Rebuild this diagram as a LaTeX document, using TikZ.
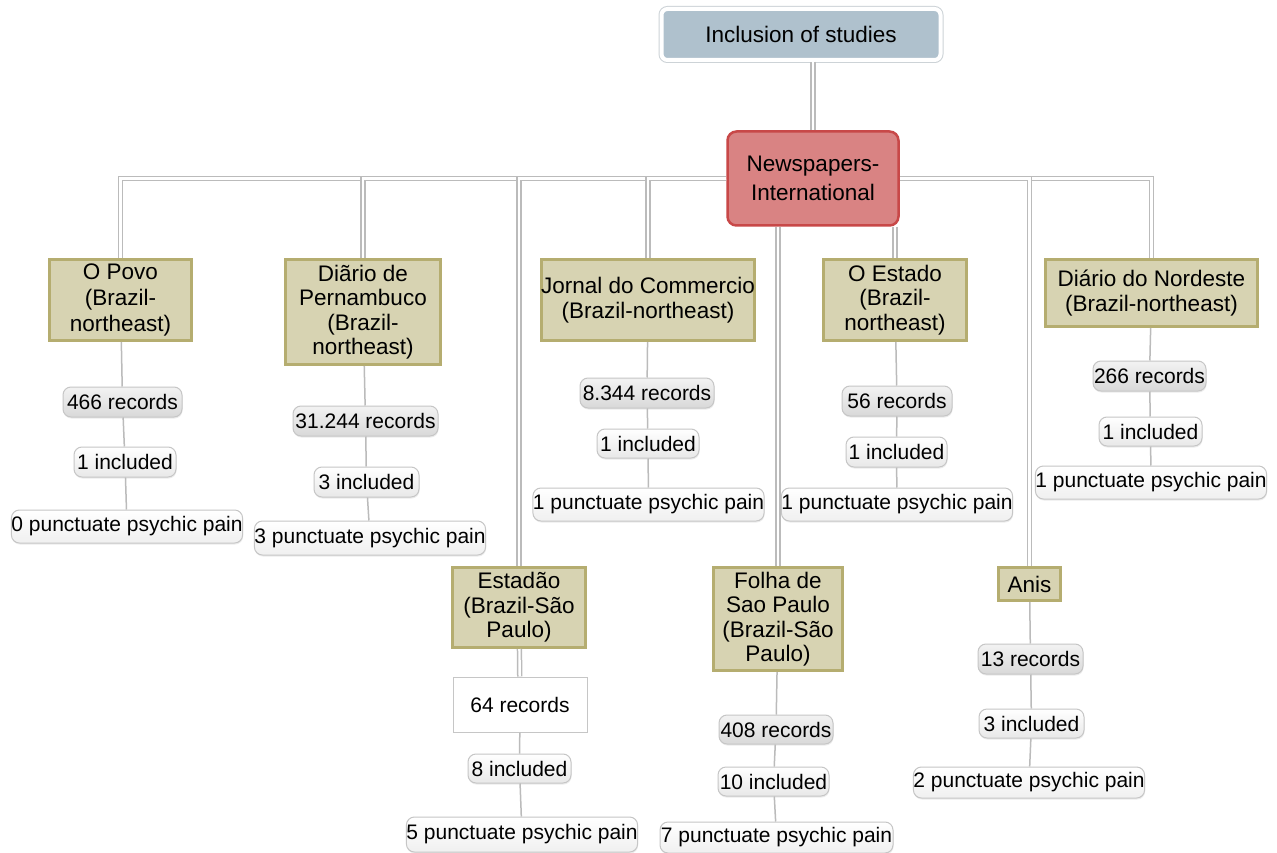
\documentclass[tikz,border=0pt]{standalone}
\usepackage{fontspec}
\setmainfont{Liberation Sans}
\usetikzlibrary{shadows}
\definecolor{titlefill}{HTML}{AFC1CD}
\definecolor{titleedge}{HTML}{CDD3D7}
\definecolor{newsfill}{HTML}{D98383}
\definecolor{newsdraw}{HTML}{C84848}
\definecolor{khfill}{HTML}{D7D3B2}
\definecolor{khdraw}{HTML}{B5AD70}
\definecolor{conn}{HTML}{BBBBBB}
\definecolor{pilldraw}{HTML}{C6C6C6}
\newcommand{\boxfnt}{\fontsize{22.5}{24.5}\selectfont}
\newcommand{\pillfnt}{\fontsize{21}{24}\selectfont}
\begin{document}
\begin{tikzpicture}[x=1pt,y=-1pt,
 titlebox/.style={rounded corners=6pt, fill=titlefill, draw=white, line width=4pt,
   drop shadow={shadow xshift=1pt,shadow yshift=-2.5pt,opacity=0.35},
   preaction={draw=titleedge, line width=6pt}, inner sep=0pt, font=\boxfnt},
 newsbox/.style={rounded corners=9pt, fill=newsfill, draw=newsdraw, line width=2.5pt,
   inner sep=0pt, align=center, font=\fontsize{22.5}{28.5}\selectfont},
 paperbox/.style={fill=khfill, draw=khdraw, line width=3pt, inner sep=0pt, align=center, font=\boxfnt},
 pill/.style={rounded corners=8pt, draw=pilldraw, line width=1pt, inner sep=0pt, font=\pillfnt,
   drop shadow={shadow xshift=0.5pt,shadow yshift=-1.5pt,opacity=0.15}},
 recpill/.style={pill, top color=white!95!black, bottom color=white!85!black},
 incpill/.style={pill, top color=white, bottom color=white!91!black},
 punpill/.style={pill, top color=white, bottom color=white!94!black},
 recrect/.style={draw=pilldraw, line width=1pt, fill=white, inner sep=0pt, font=\pillfnt},
 dbl/.style={draw=conn, line width=1.5pt, double=white, double distance=2.4pt},
 sgl/.style={draw=conn, line width=1.5pt},
 sz/.style 2 args={minimum width=#1pt, minimum height=#2pt}
]
\useasboundingbox[fill=white] (0,0) rectangle (1277,853);

% main nodes
\node[titlebox, sz={279}{51}] (title) at (801,34.5) {Inclusion of studies};
\node[newsbox, sz={171}{94}] (news) at (813,178.5) {Newspapers-\\International};

\node[paperbox, sz={142}{81}, font=\fontsize{22.5}{26}\selectfont] (opovo) at (120.5,300) {O Povo\\(Brazil-\\northeast)};
\node[paperbox, sz={155}{105}] (pern) at (363,312) {Diãrio de\\Pernambuco\\(Brazil-\\northeast)};
\node[paperbox, sz={211}{81}] (jornal) at (648,300) {Jornal do Commercio\\(Brazil-northeast)};
\node[paperbox, sz={143}{81}] (oestado) at (895,300) {O Estado\\(Brazil-\\northeast)};
\node[paperbox, sz={212}{67}] (nordeste) at (1151.5,293) {Diário do Nordeste\\(Brazil-northeast)};
\node[paperbox, sz={133}{80}] (estadao) at (519,607.5) {Estadão\\(Brazil-São\\Paulo)};
\node[paperbox, sz={129}{103}] (folha) at (778,619) {Folha de\\Sao Paulo\\(Brazil-São\\Paulo)};
\node[paperbox, sz={62}{33}] (anis) at (1029.5,584) {Anis};

% O Povo column
\node[recpill, sz={119}{30}] (r1) at (122.5,402) {466 records};
\node[incpill, sz={102}{30}] (i1) at (125,462) {1 included};
\node[punpill, sz={228}{33}] (p1) at (127,526.5) {0 punctuate psychic pain};
% Pernambuco column
\node[recpill, sz={145}{30}] (r2) at (365.5,421) {31.244 records};
\node[incpill, sz={105}{30}] (i2) at (366.5,482) {3 included};
\node[punpill, sz={230}{34}] (p2) at (370,538) {3 punctuate psychic pain};
% Jornal column
\node[recpill, sz={134}{30}] (r3) at (647,393) {8.344 records};
\node[incpill, sz={102}{29}] (i3) at (648,443.5) {1 included};
\node[punpill, sz={229}{33}] (p3) at (648.5,504.5) {1 punctuate psychic pain};
% O Estado column
\node[recpill, sz={110}{30}] (r4) at (897,401) {56 records};
\node[incpill, sz={101}{30}] (i4) at (896.5,452) {1 included};
\node[punpill, sz={228}{33}] (p4) at (897,504.5) {1 punctuate psychic pain};
% Nordeste column
\node[recpill, sz={113}{30}] (r5) at (1149.5,376) {266 records};
\node[incpill, sz={103}{29}] (i5) at (1150.5,431.5) {1 included};
\node[punpill, sz={230}{33}] (p5) at (1151,482.5) {1 punctuate psychic pain};
% Estadao column
\node[recrect, sz={134}{55}] (r6) at (520,704.5) {64 records};
\node[incpill, sz={103}{29}] (i6) at (519.5,768.5) {8 included};
\node[punpill, sz={230}{35}] (p6) at (522,834.5) {5 punctuate psychic pain};
% Folha column
\node[recpill, sz={114}{29}] (r7) at (776,729.5) {408 records};
\node[incpill, sz={111}{29}] (i7) at (773.5,781.5) {10 included};
\node[punpill, sz={233}{31}] (p7) at (776.5,837.5) {7 punctuate psychic pain};
% Anis column
\node[recpill, sz={105}{30}] (r8) at (1030.5,659) {13 records};
\node[incpill, sz={105}{29}] (i8) at (1031.5,723.5) {3 included};
\node[punpill, sz={228}{31}] (p8) at (1029,782.5) {2 punctuate psychic pain};

% double connectors (tree)
\draw[dbl] (title.south -| news.north) -- (news.north);
\draw[dbl] (news.west) -| (opovo.north);
\draw[dbl] (news.east) -| (nordeste.north);
\draw[dbl] (news.west) -| (pern.north);
\draw[dbl] (news.west) -| (estadao.north);
\draw[dbl] (news.west) -| (jornal.north);
\draw[dbl] (news.east) -| (anis.north);
\draw[dbl] (news.south -| folha.north) -- (folha.north);
\draw[dbl] (news.south -| oestado.north) -- (oestado.north);
\draw[dbl] (estadao) -- (r6);

% single connectors
\draw[sgl] (opovo) -- (r1); \draw[sgl] (r1) -- (i1); \draw[sgl] (i1) -- (p1);
\draw[sgl] (pern) -- (r2); \draw[sgl] (r2) -- (i2); \draw[sgl] (i2) -- (p2);
\draw[sgl] (jornal) -- (r3); \draw[sgl] (r3) -- (i3); \draw[sgl] (i3) -- (p3);
\draw[sgl] (oestado) -- (r4); \draw[sgl] (r4) -- (i4); \draw[sgl] (i4) -- (p4);
\draw[sgl] (nordeste) -- (r5); \draw[sgl] (r5) -- (i5); \draw[sgl] (i5) -- (p5);
\draw[sgl] (r6) -- (i6); \draw[sgl] (i6) -- (p6);
\draw[sgl] (folha) -- (r7); \draw[sgl] (r7) -- (i7); \draw[sgl] (i7) -- (p7);
\draw[sgl] (anis) -- (r8); \draw[sgl] (r8) -- (i8); \draw[sgl] (i8) -- (p8);
\end{tikzpicture}
\end{document}
